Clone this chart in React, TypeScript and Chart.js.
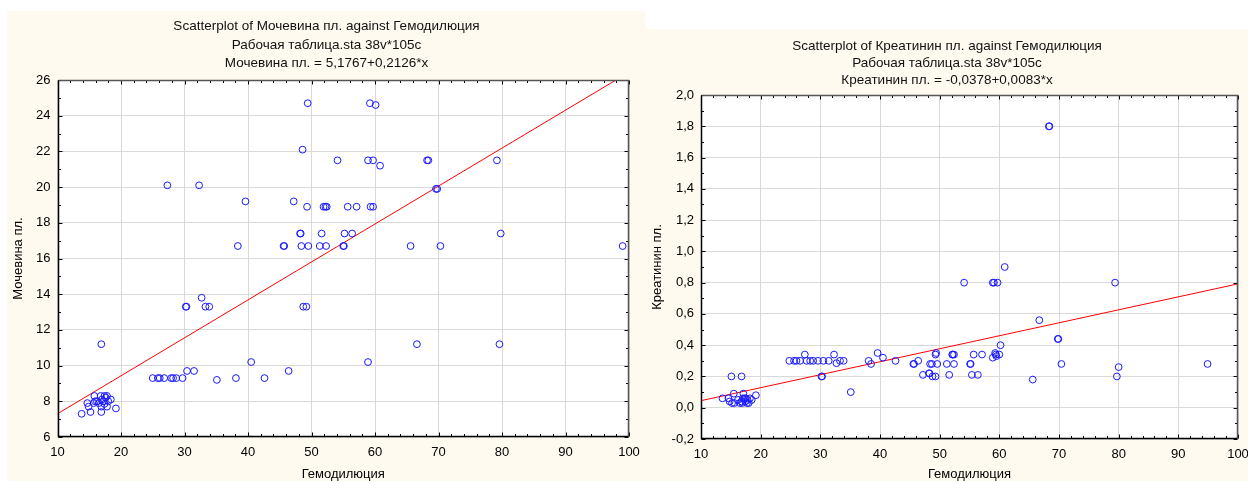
import React, { useEffect, useRef } from "react";
import { Chart, registerables } from "chart.js";

Chart.register(...registerables);

const FONT = "'Liberation Sans', Arial, Helvetica, sans-serif";

// ---- shared x axis ----
const xTicks = [10, 20, 30, 40, 50, 60, 70, 80, 90, 100];
const xTitle = "Гемодилюция";

// ---- left chart: Мочевина пл. ----
const ureaTitle = [
  "Scatterplot of Мочевина пл. against Гемодилюция",
  "Рабочая таблица.sta 38v*105c",
  "Мочевина пл. = 5,1767+0,2126*x",
];
const ureaYTitle = "Мочевина пл.";
const ureaYTicks = [6, 8, 10, 12, 14, 16, 18, 20, 22, 24, 26];
const ureaFit = [5.1767, 0.2126];
const ureaX = [
  49.4, 59.2, 60.1, 48.6, 54.1, 58.9, 59.7, 60.8, 68.2, 68.4, 79.2,
  27.3, 32.3, 39.6, 47.2, 49.3, 51.9, 52.2, 52.4, 55.7, 57.1, 59.3, 59.7,
  69.6, 69.8,
  48.2, 48.3, 51.6, 55.2, 56.4, 79.8,
  38.4, 45.6, 45.7, 48.4, 49.5, 51.3, 52.3, 55.0, 55.1, 65.6, 70.3, 99.0,
  32.7, 30.2, 30.3, 33.3, 33.9, 48.7, 49.2,
  16.9, 66.6, 79.6, 40.5, 58.9, 46.4, 30.4, 31.5,
  25.0, 25.8, 26.1, 26.8, 27.9, 28.2, 28.7, 29.7, 38.1, 42.6, 35.1,
  13.8, 15.2, 16.9, 14.7, 14.9, 15.8, 15.7, 15.9, 16.8, 16.9, 17.2,
  17.4, 17.8, 18.0, 17.8, 18.4, 19.2, 17.4, 16.5, 16.2, 17.0, 17.6,
];
const ureaY = [
  24.7, 24.7, 24.6, 22.1, 21.5, 21.5, 21.5, 21.2, 21.5, 21.5, 21.5,
  20.1, 20.1, 19.2, 19.2, 18.9, 18.9, 18.9, 18.9, 18.9, 18.9, 18.9, 18.9,
  19.9, 19.9,
  17.4, 17.4, 17.4, 17.4, 17.4, 17.4,
  16.7, 16.7, 16.7, 16.7, 16.7, 16.7, 16.7, 16.7, 16.7, 16.7, 16.7, 16.7,
  13.8, 13.3, 13.3, 13.3, 13.3, 13.3, 13.3,
  11.2, 11.2, 11.2, 10.2, 10.2, 9.7, 9.7, 9.7,
  9.3, 9.3, 9.3, 9.3, 9.3, 9.3, 9.3, 9.3, 9.3, 9.3, 9.2,
  7.3, 7.4, 7.4, 7.9, 7.7, 8.3, 7.9, 8.0, 8.3, 7.7, 8.0,
  8.3, 8.3, 8.0, 7.7, 8.1, 7.6, 7.85, 7.9, 8.0, 8.1, 8.2,
];

// ---- right chart: Креатинин пл. ----
const creatTitle = [
  "Scatterplot of Креатинин пл. against Гемодилюция",
  "Рабочая таблица.sta 38v*105c",
  "Креатинин пл. = -0,0378+0,0083*x",
];
const creatYTitle = "Креатинин пл.";
const creatYTicks = [-0.2, 0, 0.2, 0.4, 0.6, 0.8, 1.0, 1.2, 1.4, 1.6, 1.8, 2.0];
const creatFit = [-0.0378, 0.0083];
const creatX = [
  13.6, 14.6, 14.8, 15.2, 15.5, 15.6, 16.2, 16.5, 16.8, 17.1, 17.3, 17.5,
  17.8, 18.0, 18.2, 18.5, 19.2, 16.9, 17.7, 17.0, 17.4,
  15.1, 16.8,
  24.8, 25.6, 26.0, 26.6, 27.4, 27.7, 28.3, 28.8, 29.6, 30.5, 31.4, 32.3,
  32.7, 33.3, 33.9,
  30.2, 30.3, 35.1,
  38.1, 38.5, 39.6, 40.5, 42.6,
  45.6, 45.7, 46.4, 47.2, 48.2, 48.3, 48.4, 48.7, 48.8, 49.3, 49.3, 49.4, 49.6,
  51.2, 51.6, 52.1, 52.2, 52.4, 52.4, 55.1, 55.2, 55.4, 55.7, 56.4, 57.1,
  58.9, 59.3, 59.5, 59.4, 60.0, 60.2,
  54.1, 58.9, 59.1, 59.7, 60.9, 79.4,
  68.3, 68.4,
  66.7, 69.8, 69.9, 70.4, 65.6, 79.7, 80.0, 94.9,
];
const creatY = [
  0.06, 0.06, 0.04, 0.03, 0.09, 0.03, 0.05, 0.03, 0.04, 0.09, 0.06, 0.06,
  0.05, 0.03, 0.06, 0.05, 0.08, 0.03, 0.03, 0.06, 0.04,
  0.2, 0.2,
  0.3, 0.3, 0.3, 0.3, 0.34, 0.3, 0.3, 0.3, 0.3, 0.3, 0.3, 0.34,
  0.285, 0.3, 0.3,
  0.2, 0.2, 0.1,
  0.3, 0.28, 0.35, 0.32, 0.3,
  0.28, 0.28, 0.3, 0.21, 0.22, 0.22, 0.28, 0.28, 0.2, 0.2, 0.34, 0.35, 0.28,
  0.28, 0.21, 0.34, 0.34, 0.34, 0.28, 0.28, 0.28, 0.21, 0.34, 0.21, 0.34,
  0.32, 0.35, 0.33, 0.34, 0.34, 0.4,
  0.8, 0.8, 0.8, 0.8, 0.9, 0.8,
  1.8, 1.8,
  0.56, 0.44, 0.44, 0.28, 0.18, 0.2, 0.26, 0.28,
];

const intFmt = (v: number) => String(Math.round(v));
const commaFmt = (v: number) => {
  const n = Math.abs(v) < 1e-9 ? 0 : v;
  return n.toFixed(1).replace(".", ",");
};

const framePlugin = {
  id: "statFrame",
  afterLayout(chart: any) {
    // centre the title block over the whole panel
    if (chart.titleBlock) {
      chart.titleBlock.left = 0;
      chart.titleBlock.right = chart.width;
    }
  },
  beforeDraw(chart: any) {
    const { ctx, chartArea: a } = chart;
    ctx.save();
    ctx.fillStyle = "#ffffff";
    ctx.fillRect(a.left, a.top, a.right - a.left, a.bottom - a.top);
    ctx.restore();
  },
  afterDraw(chart: any, _args: any, opts: any) {
    const { ctx, chartArea: a, scales } = chart;
    const x = scales.x;
    const y = scales.y;
    const L = Math.round(a.left) + 0.5;
    const R = Math.round(a.right) - 0.5;
    const T = Math.round(a.top) + 0.5;
    const B = Math.round(a.bottom) - 0.5;
    ctx.save();
    ctx.lineWidth = 1;
    ctx.strokeStyle = "#000000";
    const nx = Math.round((x.max - x.min) / opts.xMinor);
    const xPer = Math.round(opts.xMajor / opts.xMinor);
    for (let i = 0; i <= nx; i++) {
      const px = Math.round(x.getPixelForValue(x.min + i * opts.xMinor)) + 0.5;
      const len = i % xPer === 0 ? 4 : 2.5;
      ctx.beginPath();
      ctx.moveTo(px, B);
      ctx.lineTo(px, B - len);
      ctx.moveTo(px, T);
      ctx.lineTo(px, T + len);
      ctx.stroke();
    }
    const ny = Math.round((y.max - y.min) / opts.yMinor);
    const yPer = Math.round(opts.yMajor / opts.yMinor);
    for (let i = 0; i <= ny; i++) {
      const py = Math.round(y.getPixelForValue(y.min + i * opts.yMinor)) + 0.5;
      const len = i % yPer === 0 ? 4 : 2.5;
      ctx.beginPath();
      ctx.moveTo(L, py);
      ctx.lineTo(L + len, py);
      ctx.moveTo(R, py);
      ctx.lineTo(R - len, py);
      ctx.stroke();
    }
    ctx.lineWidth = 1.5;
    ctx.strokeStyle = "#555555";
    ctx.beginPath();
    ctx.moveTo(L, T);
    ctx.lineTo(R, T);
    ctx.lineTo(R, B);
    ctx.stroke();
    ctx.strokeStyle = "#000000";
    ctx.beginPath();
    ctx.moveTo(L, T);
    ctx.lineTo(L, B);
    ctx.lineTo(R, B);
    ctx.stroke();
    ctx.restore();
  },
};

type PanelProps = {
  left: number;
  top: number;
  width: number;
  height: number;
  xs: number[];
  ys: number[];
  fit: number[];
  title: string[];
  yTitle: string;
  yTicks: number[];
  yFmt: (v: number) => string;
  yMinor: number;
  yAxisW: number;
  xAxisH: number;
  padRight: number;
  titleLH: number;
  titlePadTop: number;
  titlePadBottom: number;
};

function ScatterPanel(p: PanelProps) {
  const ref = useRef<HTMLCanvasElement | null>(null);
  useEffect(() => {
    if (!ref.current) return;
    const points = p.xs.map((x, i) => ({ x, y: p.ys[i] }));
    const xMin = xTicks[0];
    const xMax = xTicks[xTicks.length - 1];
    const line = [
      { x: xMin, y: p.fit[0] + p.fit[1] * xMin },
      { x: xMax, y: p.fit[0] + p.fit[1] * xMax },
    ];
    const yMin = p.yTicks[0];
    const yMax = p.yTicks[p.yTicks.length - 1];
    const chart = new Chart(ref.current, {
      type: "scatter",
      data: {
        datasets: [
          {
            type: "scatter",
            data: points,
            pointStyle: "circle",
            pointRadius: 3.4,
            pointHoverRadius: 3.4,
            borderColor: "#1a1aff",
            backgroundColor: "rgba(0,0,0,0)",
            borderWidth: 1,
            order: 1,
          } as any,
          {
            type: "line",
            data: line,
            borderColor: "#ff0000",
            borderWidth: 1,
            pointRadius: 0,
            fill: false,
            clip: 0,
            order: 2,
          } as any,
        ],
      },
      options: {
        animation: false,
        responsive: false,
        devicePixelRatio: 1,
        events: [],
        layout: { padding: { left: 0, right: p.padRight, top: 0, bottom: 0 } },
        plugins: {
          legend: { display: false },
          tooltip: { enabled: false },
          title: {
            display: true,
            text: p.title,
            color: "#111111",
            font: { family: FONT, size: 13.5, weight: "normal", lineHeight: p.titleLH },
            padding: { top: p.titlePadTop, bottom: p.titlePadBottom },
          },
          statFrame: { xMinor: 2, xMajor: 10, yMinor: p.yMinor, yMajor: p.yTicks[1] - p.yTicks[0] },
        } as any,
        scales: {
          x: {
            type: "linear",
            min: xMin,
            max: xMax,
            afterBuildTicks: (s: any) => {
              s.ticks = xTicks.map((v) => ({ value: v }));
            },
            afterFit: (s: any) => {
              s.height = p.xAxisH;
              s.paddingLeft = 0;
              s.paddingRight = 0;
            },
            ticks: {
              color: "#000000",
              font: { family: FONT, size: 13 },
              padding: 7.5,
              autoSkip: false,
              maxRotation: 0,
              callback: (v: any) => intFmt(Number(v)),
            },
            grid: { color: "#d9d9d9", lineWidth: 1, drawTicks: false },
            border: { display: false },
            title: {
              display: true,
              text: xTitle,
              color: "#000000",
              font: { family: FONT, size: 13, lineHeight: 1.08 },
              padding: { top: 0, bottom: 0 },
            },
          },
          y: {
            type: "linear",
            min: yMin,
            max: yMax,
            afterBuildTicks: (s: any) => {
              s.ticks = p.yTicks.map((v) => ({ value: v }));
            },
            afterFit: (s: any) => {
              s.width = p.yAxisW;
              s.paddingTop = 0;
              s.paddingBottom = 0;
            },
            ticks: {
              color: "#000000",
              font: { family: FONT, size: 13 },
              padding: 7,
              autoSkip: false,
              callback: (v: any) => p.yFmt(Number(v)),
            },
            grid: { color: "#d9d9d9", lineWidth: 1, drawTicks: false },
            border: { display: false },
            title: {
              display: true,
              text: p.yTitle,
              color: "#000000",
              font: { family: FONT, size: 13, lineHeight: 1.08 },
              padding: { top: 4, bottom: 0 },
            },
          },
        },
      } as any,
      plugins: [framePlugin as any],
    });
    return () => chart.destroy();
  }, []);
  return (
    <div
      style={{
        position: "absolute",
        left: p.left,
        top: p.top,
        width: p.width,
        height: p.height,
        background: "#fffaf0",
      }}
    >
      <canvas ref={ref} width={p.width} height={p.height} style={{ display: "block" }} />
    </div>
  );
}

export default function App() {
  return (
    <div
      style={{
        position: "fixed",
        left: 0,
        top: 0,
        width: 1248,
        height: 481,
        background: "#ffffff",
        overflow: "hidden",
      }}
    >
      <ScatterPanel
        left={7}
        top={11}
        width={639}
        height={470}
        xs={ureaX}
        ys={ureaY}
        fit={ureaFit}
        title={ureaTitle}
        yTitle={ureaYTitle}
        yTicks={ureaYTicks}
        yFmt={intFmt}
        yMinor={1}
        yAxisW={50.5}
        xAxisH={44}
        padRight={17}
        titleLH={1.356}
        titlePadTop={6.5}
        titlePadBottom={7.6}
      />
      <ScatterPanel
        left={646}
        top={29}
        width={602}
        height={452}
        xs={creatX}
        ys={creatY}
        fit={creatFit}
        title={creatTitle}
        yTitle={creatYTitle}
        yTicks={creatYTicks}
        yFmt={commaFmt}
        yMinor={0.1}
        yAxisW={55}
        xAxisH={42}
        padRight={10}
        titleLH={1.26}
        titlePadTop={8.5}
        titlePadBottom={6.5}
      />
    </div>
  );
}
